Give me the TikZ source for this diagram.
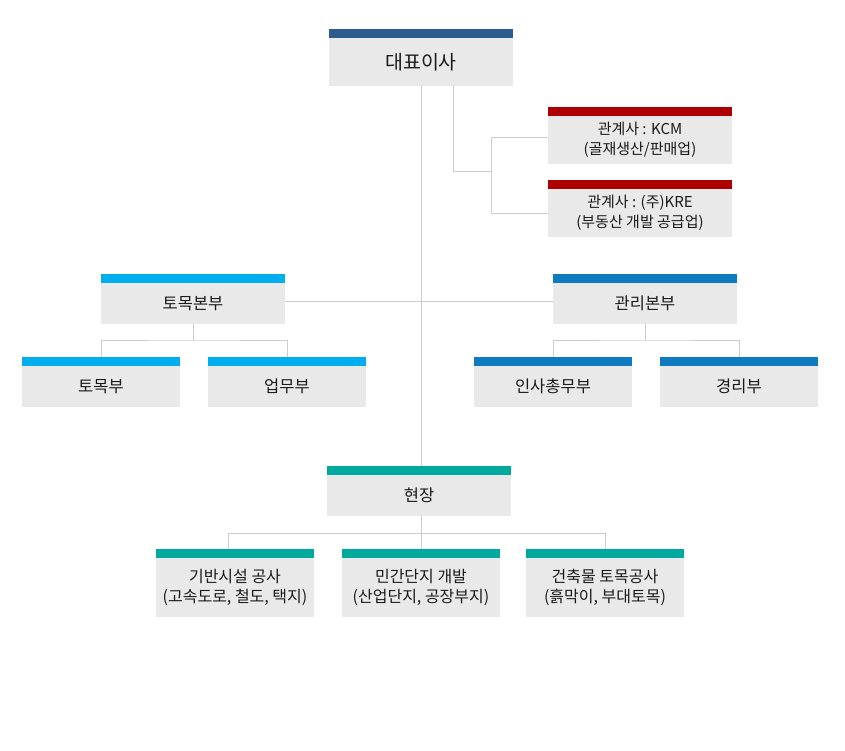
\documentclass[tikz,border=0pt]{standalone}
\usepackage{fontspec}
\setmainfont{Noto Sans CJK KR}
\definecolor{boxgray}{HTML}{E9E9E9}
\definecolor{linegray}{HTML}{CCCCCC}
\definecolor{txt}{HTML}{1A1A1A}
\definecolor{ceoblue}{HTML}{2E5A8E}
\definecolor{affred}{HTML}{AE0000}
\definecolor{civcyan}{HTML}{00AEEF}
\definecolor{mgmtblue}{HTML}{0E7AC0}
\definecolor{siteteal}{HTML}{00A99D}
\tikzset{
  gbox/.style={fill=boxgray, inner sep=0pt, align=center, text=txt},
  conn/.style={draw=linegray, line width=1pt},
  bigtxt/.style={font=\fontsize{19.5}{24}\selectfont},
  midtxt/.style={font=\fontsize{16.5}{20}\selectfont},
  smltxt/.style={font=\fontsize{15}{19.5}\selectfont},
  lowtxt/.style={font=\fontsize{16}{20}\selectfont},
}
\begin{document}
\begin{tikzpicture}[x=1pt,y=-1pt]
\useasboundingbox (0,0) rectangle (845,750);
% boxes (gray parts)
\node[gbox,bigtxt,minimum width=184pt,minimum height=48pt] (ceo) at (421,62) {대표이사};
\node[gbox,smltxt,minimum width=184pt,minimum height=48pt] (kcm) at (640,140) {관계사 : KCM\\(골재생산/판매업)};
\node[gbox,smltxt,minimum width=184pt,minimum height=48pt] (kre) at (640,213) {관계사 : (주)KRE\\(부동산 개발 공급업)};
\node[gbox,midtxt,minimum width=184pt,minimum height=41pt] (civ) at (193,303.5) {토목본부};
\node[gbox,midtxt,minimum width=184pt,minimum height=41pt] (mgmt) at (645,303.5) {관리본부};
\node[gbox,midtxt,minimum width=158pt,minimum height=41pt] (tm) at (101,386.5) {토목부};
\node[gbox,midtxt,minimum width=158pt,minimum height=41pt] (ew) at (287,386.5) {업무부};
\node[gbox,midtxt,minimum width=158pt,minimum height=41pt] (hr) at (553,386.5) {인사총무부};
\node[gbox,midtxt,minimum width=158pt,minimum height=41pt] (acc) at (739,386.5) {경리부};
\node[gbox,midtxt,minimum width=184pt,minimum height=41pt] (site) at (419,495.5) {현장};
\node[gbox,lowtxt,minimum width=158pt,minimum height=59pt] (infra) at (235,587.5) {기반시설 공사\\(고속도로, 철도, 택지)};
\node[gbox,lowtxt,minimum width=158pt,minimum height=59pt] (priv) at (421,587.5) {민간단지 개발\\(산업단지, 공장부지)};
\node[gbox,lowtxt,minimum width=158pt,minimum height=59pt] (bldg) at (605,587.5) {건축물 토목공사\\(흙막이, 부대토목)};
% colour bars
\fill[ceoblue] (ceo.north west) rectangle ([yshift=9pt]ceo.north east);
\foreach \n in {kcm,kre} \fill[affred] (\n.north west) rectangle ([yshift=9pt]\n.north east);
\foreach \n in {civ,tm,ew} \fill[civcyan] (\n.north west) rectangle ([yshift=9pt]\n.north east);
\foreach \n in {mgmt,hr,acc} \fill[mgmtblue] (\n.north west) rectangle ([yshift=9pt]\n.north east);
\foreach \n in {site,infra,priv,bldg} \fill[siteteal] (\n.north west) rectangle ([yshift=9pt]\n.north east);
% connectors
\coordinate (affj) at (491,171);
\coordinate (cj) at (193,340);
\coordinate (mj) at (645,340);
\coordinate (sj) at (421,533);
\coordinate (sl) at (228,533);
\coordinate (sr) at (605,533);
\draw[conn] (ceo.south) -- (ceo.south |- 0,466);
\draw[conn] (civ.east |- 0,301) -- (mgmt.west |- 0,301);
\draw[conn] ([xshift=32pt]ceo.south) |- (affj);
\draw[conn] (affj |- 0,137) -- (affj |- 0,213);
\draw[conn] (affj |- 0,137) -- (kcm.west |- 0,137);
\draw[conn] (affj |- 0,213) -- (kre.west |- 0,213);
\draw[conn] (civ.south) -- (cj);
\draw[conn] ([yshift=9pt]tm.north) |- (cj) -| ([yshift=9pt]ew.north);
\draw[conn] (mgmt.south) -- (mj);
\draw[conn] ([yshift=9pt]hr.north) |- (mj) -| ([yshift=9pt]acc.north);
\draw[conn] (sj |- site.south) -- (sj);
\draw[conn] (sl |- 0,549) -- (sl) -- (sr) -- ([yshift=9pt]bldg.north);
\draw[conn] (sj) -- ([yshift=9pt]priv.north);
\end{tikzpicture}
\end{document}
